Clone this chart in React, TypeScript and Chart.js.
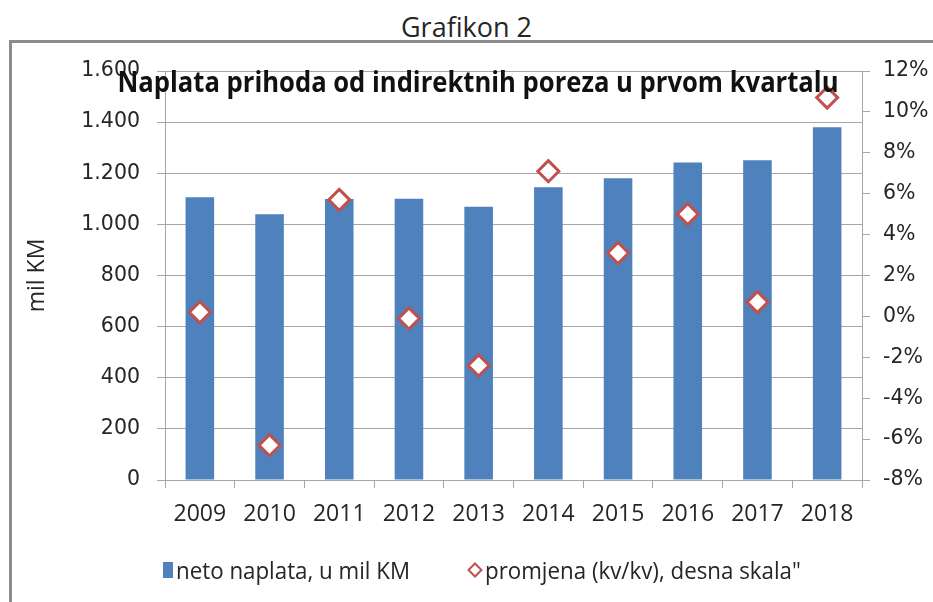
import React, { useEffect, useRef } from 'react';
import { Chart, registerables } from 'chart.js';

Chart.register(...registerables);

const years = ['2009', '2010', '2011', '2012', '2013', '2014', '2015', '2016', '2017', '2018'];
const netoNaplata = [1106, 1040, 1099, 1100, 1069, 1145, 1180, 1242, 1251, 1380];
const promjena = [0.2, -6.3, 5.7, -0.1, -2.4, 7.1, 3.1, 5.0, 0.7, 10.7];
const leftTicks = [0, 200, 400, 600, 800, 1000, 1200, 1400, 1600];
const rightTicks = [-8, -6, -4, -2, 0, 2, 4, 6, 8, 10, 12];
const figureLabel = 'Grafikon 2';
const chartTitle = 'Naplata prihoda od indirektnih poreza u prvom kvartalu';
const yAxisTitle = 'mil KM';
const seriesNames = ['neto naplata, u mil KM', 'promjena (kv/kv), desna skala"'];

const BAR_COLOR = '#4f81bd';
const DIAMOND_COLOR = '#c0504d';
const GRID = '#a6a6a6';
const TEXT = '#262626';
const SANS = "'Open Sans', 'DejaVu Sans', sans-serif";
const AXIS = "'DejaVu Sans', sans-serif";

const fmtThousands = (v: number) => String(v).replace(/\B(?=(\d{3})+(?!\d))/g, '.');

export default function App() {
  const ref = useRef<HTMLCanvasElement | null>(null);

  useEffect(() => {
    if (!ref.current) return;
    const chart = new Chart(ref.current, {
      type: 'bar',
      data: {
        labels: years,
        datasets: [
          {
            type: 'line',
            label: seriesNames[1],
            data: promjena,
            yAxisID: 'y1',
            showLine: false,
            pointStyle: 'rectRot',
            pointRadius: 10.5,
            pointHoverRadius: 10.5,
            pointBorderWidth: 3,
            pointBackgroundColor: '#ffffff',
            pointBorderColor: DIAMOND_COLOR,
            borderColor: DIAMOND_COLOR,
            backgroundColor: '#ffffff',
            order: 1,
          } as any,
          {
            type: 'bar',
            label: seriesNames[0],
            data: netoNaplata,
            yAxisID: 'y',
            backgroundColor: BAR_COLOR,
            barPercentage: 0.41,
            categoryPercentage: 1,
            order: 2,
          },
        ],
      },
      options: {
        responsive: false,
        animation: false,
        devicePixelRatio: 1,
        layout: { padding: { top: 71, left: 12, right: 0, bottom: 62 } },
        plugins: {
          legend: { display: false },
          title: { display: false },
          tooltip: { enabled: false },
        },
        scales: {
          x: {
            offset: true,
            grid: { drawOnChartArea: false, drawTicks: true, tickLength: 8, color: GRID, offset: true },
            border: { color: GRID, width: 1 },
            ticks: {
              color: TEXT,
              font: { family: SANS, size: 23 },
              padding: 13,
              maxRotation: 0,
              autoSkip: false,
            },
            afterFit: (s: any) => {
              s.height = 60;
            },
          },
          y: {
            position: 'left',
            min: 0,
            max: 1600,
            afterBuildTicks: (s: any) => {
              s.ticks = leftTicks.map((v) => ({ value: v }));
            },
            ticks: {
              color: TEXT,
              font: { family: AXIS, size: 20.5 },
              padding: 17,
              callback: (v: any) => fmtThousands(Number(v)),
            },
            grid: { color: GRID, lineWidth: 1, tickLength: 8 },
            border: { color: GRID, width: 1 },
            title: {
              display: true,
              text: yAxisTitle,
              color: TEXT,
              font: { family: SANS, size: 23 },
              padding: { top: 12, bottom: 0 },
            },
            afterFit: (s: any) => {
              s.width = 165 - 12;
            },
          },
          y1: {
            position: 'right',
            min: -8,
            max: 12,
            afterBuildTicks: (s: any) => {
              s.ticks = rightTicks.map((v) => ({ value: v }));
            },
            ticks: {
              color: TEXT,
              font: { family: AXIS, size: 20.5 },
              padding: 13,
              callback: (v: any) => `${v}%`,
            },
            grid: { drawOnChartArea: false, color: GRID, tickLength: 8 },
            border: { color: GRID, width: 1 },
            afterFit: (s: any) => {
              s.width = 933 - 862;
            },
          },
        },
      } as any,
    });
    return () => chart.destroy();
  }, []);

  return (
    <div
      style={{
        position: 'fixed',
        left: 0,
        top: 0,
        width: 933,
        height: 602,
        overflow: 'hidden',
        background: '#ffffff',
        fontFamily: SANS,
        color: TEXT,
      }}
    >
      <div
        style={{
          position: 'absolute',
          left: 0,
          top: 9,
          width: 933,
          textAlign: 'center',
          fontSize: 27,
          lineHeight: '36px',
        }}
      >
        {figureLabel}
      </div>
      <div
        style={{
          position: 'absolute',
          left: 9,
          top: 40,
          width: 1000,
          height: 1000,
          borderLeft: '3px solid #8c8c8c',
          borderTop: '3px solid #8c8c8c',
        }}
      />
      <canvas
        ref={ref}
        width={933}
        height={602}
        style={{ position: 'absolute', left: 0, top: 0, width: 933, height: 602 }}
      />
      <div
        style={{
          position: 'absolute',
          left: 0,
          top: 62,
          width: 956,
          textAlign: 'center',
          fontSize: 28,
          fontWeight: 700,
          lineHeight: '38px',
          color: '#111',
          transform: 'scaleX(0.915)',
          transformOrigin: '478px 0',
          whiteSpace: 'nowrap',
        }}
      >
        {chartTitle}
      </div>
      <div
        style={{
          position: 'absolute',
          left: 163,
          top: 555,
          height: 30,
          display: 'flex',
          alignItems: 'center',
          fontSize: 23,
          whiteSpace: 'nowrap',
        }}
      >
        <span style={{ display: 'inline-block', width: 10, height: 16, background: BAR_COLOR, marginRight: 3 }} />
        <span style={{ display: 'inline-block', transform: 'scaleX(0.97)', transformOrigin: '0 50%', width: 236 }}>
          {seriesNames[0]}
        </span>
        <svg width={16} height={16} style={{ marginLeft: 55, marginRight: 2 }}>
          <polygon points="8,1.5 14.5,8 8,14.5 1.5,8" fill="#fff" stroke={DIAMOND_COLOR} strokeWidth={2} />
        </svg>
        <span style={{ display: 'inline-block', transform: 'scaleX(0.97)', transformOrigin: '0 50%' }}>
          {seriesNames[1]}
        </span>
      </div>
    </div>
  );
}
